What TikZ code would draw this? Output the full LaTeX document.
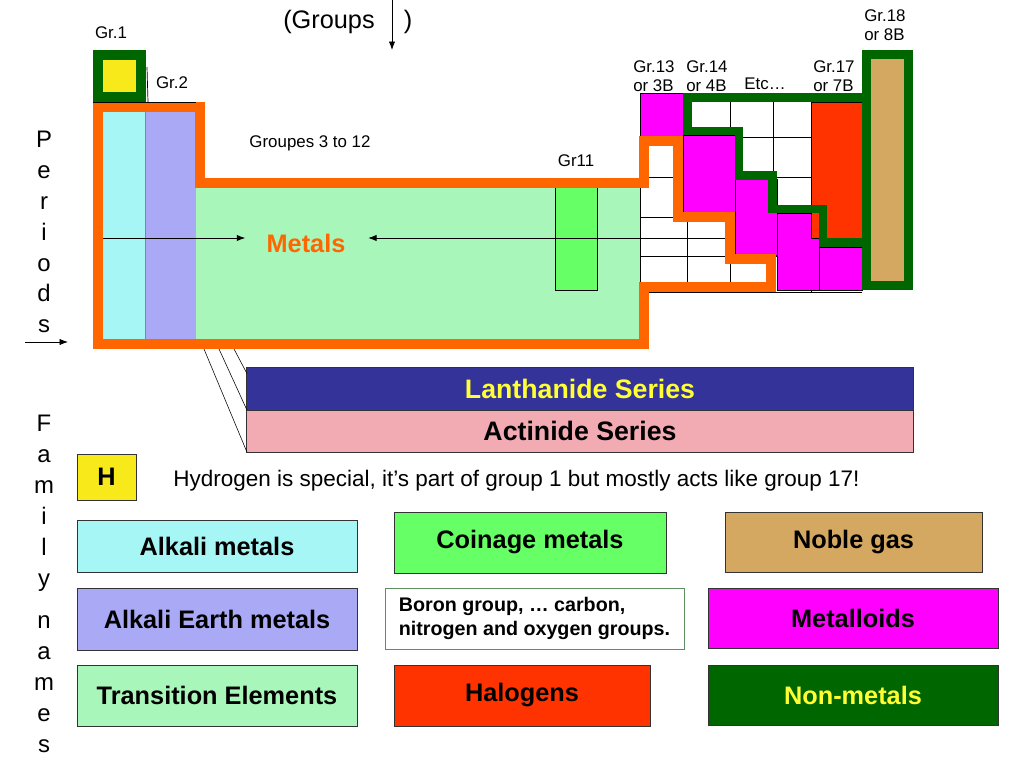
\documentclass[tikz,border=0pt]{standalone}
\usepackage{fontspec}
\setmainfont{Liberation Sans}
\usetikzlibrary{arrows.meta,calc}
\definecolor{AlkaliClr}{HTML}{A6F6F6}
\definecolor{EarthClr}{HTML}{A9A9F6}
\definecolor{TransClr}{HTML}{A8F6B9}
\definecolor{CoinClr}{HTML}{66FF66}
\definecolor{HaloClr}{HTML}{FF3300}
\definecolor{NobleClr}{HTML}{D4A860}
\definecolor{MetalloidClr}{HTML}{FF00FF}
\definecolor{NonMetalClr}{HTML}{006600}
\definecolor{MetalClr}{HTML}{FF6600}
\definecolor{HydroClr}{HTML}{F8EA1A}
\definecolor{LanthClr}{HTML}{333399}
\definecolor{ActinClr}{HTML}{F2ABB3}
\definecolor{NameClr}{HTML}{FFFF33}
\definecolor{BoronEdge}{HTML}{5E8F5E}

\begin{document}
\begin{tikzpicture}[x=0.025cm,y=-0.025cm,
  lbl/.style={font=\fontsize{12}{13.5}\selectfont,align=left,inner sep=0pt},
  famly/.style={draw=black!80,line width=.6pt,inner sep=0pt,outer sep=0pt,font=\fontsize{18}{20}\selectfont\bfseries},
  cell/.style={draw=black,line width=.4pt},
  grid line/.style={line width=.5pt},
  arr/.style={-{Latex[length=6pt,width=4.5pt]},line width=.6pt},
  letters/.style={font=\fontsize{17}{22}\selectfont,align=center,inner sep=0pt}]

\useasboundingbox[fill=white] (0,0) rectangle (1024,768);

\fill[AlkaliClr] (103,111) rectangle (145,339);
\fill[EarthClr] (145,111) rectangle (196,339);
\fill[TransClr] (196,187) rectangle (640,339);
\draw[MetalClr,line width=.5pt] (145,111) -- (145,339);

\begin{scope}
\clip (640,93) rectangle (862,293);
\foreach \y in {137,177,217,256,292} \draw[grid line] (640,\y) -- (862,\y);
\foreach \x in {687,730,773,811} \draw[grid line] (\x,93) -- (\x,293);
\end{scope}
\draw[grid line] (640,187) -- (640,292);

\fill[cell,fill=MetalloidClr] (640,93) rectangle (683,137);
\fill[cell,fill=MetalloidClr] (683,135) rectangle (735,213);
\fill[cell,fill=MetalloidClr] (735,179) rectangle (777,255);
\fill[cell,fill=MetalloidClr] (777,213) rectangle (819,290);
\fill[cell,fill=MetalloidClr] (819,247) rectangle (862,290);
\draw[cell,fill=HaloClr] (811,102) rectangle (862,238);
\draw[cell,fill=CoinClr] (555,187) rectangle (597,290);

\draw[NonMetalClr,line width=7pt,fill=HydroClr] (98,55) rectangle (141,97);
\draw[line width=.5pt] (147,67) -- (148,102);
\draw[NonMetalClr,line width=6.4pt,fill=NobleClr] (866.5,54.5) rectangle (908.5,285.5);

\node[famly,fill=LanthClr,text=NameClr,minimum width=16.65cm,minimum height=1.075cm,font=\fontsize{19}{21}\selectfont\bfseries] (lanth) at (580,388.5) {Lanthanide Series};
\node[famly,fill=ActinClr,minimum width=16.65cm,minimum height=1.05cm,font=\fontsize{19}{21}\selectfont\bfseries] (actin) at (580,431) {Actinide Series};

\coordinate (t1) at (204,349);
\coordinate (t2) at (219,349);
\coordinate (t3) at (234,349);
\draw[line width=.4pt] (t1) -- (actin.south west);
\draw[line width=.4pt] (t2) -- (lanth.south west);
\draw[line width=.4pt] (t3) -- ($(lanth.north west)!.15!(lanth.south west)$);

\draw[MetalClr,line width=6.8pt,line join=miter] (98,107) -- (200,107) -- (200,183) -- (644,183) -- (644,141) -- (678,141) -- (678,217) -- (730,217) -- (730,259) -- (771,259) -- (771,287) -- (644,287) -- (644,344) -- (98,344) -- cycle;
\draw[line width=.5pt] (93,102) -- (196,102);
\draw[NonMetalClr,line width=6pt,line join=miter] (866,97.5) -- (687.5,97.5) -- (687.5,131) -- (739,131) -- (739,175.5) -- (772.5,175.5) -- (772.5,209) -- (823,209) -- (823,242.5) -- (866,242.5);

\node[font=\fontsize{18}{20}\selectfont\bfseries,text=MetalClr,inner sep=0pt] (metals) at (306,243) {Metals};
\coordinate (mL) at (103,238);
\coordinate (mR) at (725,238);
\draw[arr,shorten >=15pt] (mL) -- (mL -| metals.west);
\draw[arr,shorten >=16pt] (mR) -- (mR -| metals.east);

\node[font=\fontsize{18}{20}\selectfont] (groups) at (329,22) {(Groups};
\node[font=\fontsize{18}{20}\selectfont] (grpend) at (408,22) {)};
\coordinate (gTop) at (392,0);
\coordinate (gBot) at (392,50);
\draw[arr] (gTop) -- (gBot);

\node[lbl] (gr1) at (111,33) {Gr.1};
\node[lbl] (gr2) at (172,83) {Gr.2};
\node[lbl] (gr312) at (310,143) {Groupes 3 to 12};
\node[lbl] (gr11) at (576,161) {Gr11};
\node[lbl,anchor=west] (gr13) at (633,76.5) {Gr.13\\or 3B};
\node[lbl,anchor=west] (gr14) at (686,76.5) {Gr.14\\or 4B};
\node[lbl] (etc) at (765,84) {Etc…};
\node[lbl,anchor=west] (gr17) at (813,76.5) {Gr.17\\or 7B};
\node[lbl,anchor=west] (gr18) at (864,25.5) {Gr.18\\or 8B};

\node[letters] (periods) at (44,232) {P\\e\\r\\i\\o\\d\\s};
\coordinate (pL) at (25,342);
\coordinate (pR) at (68,342);
\draw[arr] (pL) -- (pR);
\node[letters] (family) at (44,584) {F\\a\\m\\i\\l\\y\\[8pt]n\\a\\m\\e\\s};

\node[famly,fill=HydroClr,minimum width=1.475cm,minimum height=1.15cm] (hbox) at (106.5,477) {H};
\node[font=\fontsize{16}{18}\selectfont,anchor=west,inner sep=0pt] (hnote) at (173,481) {Hydrogen is special, it’s part of group 1 but mostly acts like group 17!};

\node[famly,fill=AlkaliClr,minimum width=7cm,minimum height=1.3cm] (alkali) at (217,546) {Alkali metals};
\node[famly,fill=EarthClr,minimum width=7cm,minimum height=1.55cm] (earth) at (217,619) {Alkali Earth metals};
\node[famly,fill=TransClr,minimum width=7cm,minimum height=1.525cm] (trans) at (217,695.5) {Transition Elements};
\node[famly,fill=CoinClr,minimum width=6.8cm,minimum height=1.525cm] (coin) at (530,542.5) {Coinage metals};
\node[famly,draw=BoronEdge,fill=white,align=left,minimum width=7.475cm,minimum height=1.525cm,font=\fontsize{14}{17.5}\selectfont\bfseries] (boron) at (534.5,618.5) {Boron group, … carbon,\\nitrogen and oxygen groups.};
\node[famly,fill=HaloClr,minimum width=6.4cm,minimum height=1.525cm] (halo) at (522,695.5) {Halogens};
\node[famly,fill=NobleClr,minimum width=6.425cm,minimum height=1.5cm] (noble) at (853.5,542) {Noble gas};
\node[famly,fill=MetalloidClr,minimum width=7.25cm,minimum height=1.5cm] (metalloid) at (853,618) {Metalloids};
\node[famly,fill=NonMetalClr,text=NameClr,minimum width=7.25cm,minimum height=1.5cm] (nonmetal) at (853,695) {Non-metals};

\end{tikzpicture}
\end{document}
